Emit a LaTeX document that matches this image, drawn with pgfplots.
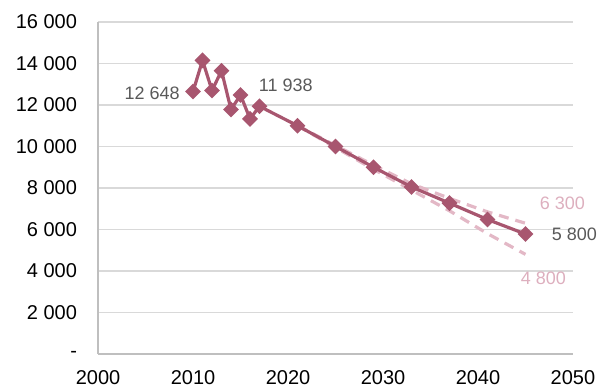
\documentclass[border=0pt]{standalone}
\usepackage{pgfplots}
\pgfplotsset{compat=1.18}
\usepackage{fontspec}
\setmainfont{Liberation Sans}
\definecolor{mainline}{HTML}{A8566F}
\definecolor{dashpink}{HTML}{E3B8C6}
\definecolor{labpink}{HTML}{DDAFBE}
\definecolor{labgray}{HTML}{595959}
\definecolor{gridgray}{HTML}{D9D9D9}
\definecolor{axgray}{HTML}{BFBFBF}
\begin{document}
\begin{tikzpicture}
  \begin{axis}[
      scale only axis, width=237.5pt, height=166pt,
      xmin=2000, xmax=2050, ymin=0, ymax=16000,
      axis x line*=bottom, axis y line*=left,
      axis line style={axgray, line width=1pt, -},
      xtick={2000,2010,...,2050},
      xticklabels={2000,2010,2020,2030,2040,2050},
      ytick={0,2000,...,16000},
      yticklabels={-,2 000,4 000,6 000,8 000,10 000,12 000,14 000,16 000},
      scaled y ticks=false,
      major tick length=0pt,
      ymajorgrids, grid style={gridgray, line width=0.8pt},
      tick label style={font=\fontsize{10}{12}\selectfont, text=black},
      yticklabel style={xshift=-7pt},
      xticklabel style={yshift=-5pt},
      clip=false,
    ]
    % scenario bounds
    \addplot[dashpink, line width=1.6pt, dash pattern=on 5pt off 3.5pt] coordinates {
      (2021,11000) (2025,10050) (2029,9100) (2033,8200) (2037,7500) (2041,6850) (2045,6300)
    };
    \addplot[dashpink, line width=1.6pt, dash pattern=on 5pt off 3.5pt] coordinates {
      (2021,11000) (2025,9950) (2029,8900) (2033,7900) (2037,6900) (2041,5800) (2045,4800)
    };
    % observed + projection
    \addplot[mainline, line width=1.6pt, mark=square*, mark size=2pt,
      mark options={rotate=45, solid}] coordinates {
      (2010,12648) (2011,14150) (2012,12700) (2013,13650) (2014,11780)
      (2015,12480) (2016,11330) (2017,11938)
      (2021,11000) (2025,10000) (2029,9000) (2033,8050) (2037,7270)
      (2041,6480) (2045,5780)
    };
    \begin{scope}[every node/.style={inner sep=0pt, font=\fontsize{9}{10}\selectfont}]
      \node[labgray, anchor=east, xshift=-6.5pt, yshift=-1pt] at (axis cs:2010,12648) {12 648};
      \node[labgray, anchor=west, xshift=-0.5pt, yshift=10.5pt] at (axis cs:2017,11938) {11 938};
      \node[labgray, anchor=west, xshift=13pt] at (axis cs:2045,5780) {5 800};
      \node[labpink, anchor=west, xshift=7pt, yshift=10pt] at (axis cs:2045,6300) {6 300};
      \node[labpink, anchor=west, xshift=-2.5pt, yshift=-12pt] at (axis cs:2045,4800) {4 800};
    \end{scope}
    \coordinate (bl) at (axis cs:1989.68,-1590);
    \coordinate (tr) at (axis cs:2052.95,17060);
  \end{axis}
  \pgfresetboundingbox
  \path[use as bounding box] (bl) rectangle (tr);
\end{tikzpicture}
\end{document}
